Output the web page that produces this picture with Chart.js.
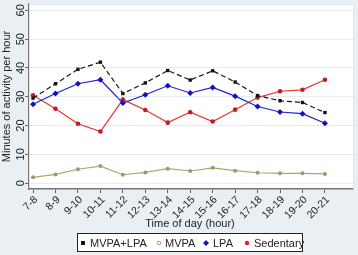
<!DOCTYPE html>
<html><head><meta charset="utf-8">
<script src="https://cdn.jsdelivr.net/npm/chart.js@4/dist/chart.umd.min.js"></script>
<style>html,body{margin:0;padding:0;background:#e9eff3;}#wrap{width:358px;height:255px;}</style>
</head><body><div id="wrap"><canvas id="c" width="358" height="255"></canvas></div>
<script>
const categories = ["7-8","8-9","9-10","10-11","11-12","12-13","13-14","14-15","15-16","16-17","17-18","18-19","19-20","20-21"];
const mvpaLpa   = [29.5,34.5,39.5,42.0,31.1,34.8,39.1,35.8,39.0,35.1,30.4,28.6,28.0,24.5];
const mvpa      = [2.0,3.0,4.8,5.9,2.9,3.7,5.0,4.2,5.3,4.3,3.6,3.4,3.4,3.2];
const lpa       = [27.4,31.1,34.5,35.9,27.8,30.7,33.8,31.3,33.2,30.2,26.6,24.7,24.1,20.8];
const sedentary = [30.5,25.8,20.6,17.9,29.0,25.4,21.0,24.6,21.4,25.5,29.7,31.9,32.4,35.9];
const yTicks = [0,10,20,30,40,50,60];
const seriesNames = ["MVPA+LPA","MVPA","LPA","Sedentary"];

const toXY = arr => arr.map((v,i)=>({x:i,y:v}));
const FONT = '"Liberation Sans", Arial, sans-serif';

const deco = {
  id:'deco',
  beforeDraw(chart){
    const {ctx, chartArea:a} = chart;
    ctx.save();
    ctx.fillStyle='#e9eff3'; ctx.fillRect(0,0,chart.width,chart.height);
    ctx.fillStyle='#ffffff'; ctx.fillRect(a.left,a.top,a.right-a.left,a.bottom-a.top);
    ctx.restore();
  },
  afterDraw(chart){
    const {ctx, chartArea:a, scales:{x,y}} = chart;
    ctx.save();
    // top/right border
    ctx.strokeStyle='#e2e9ee'; ctx.lineWidth=1;
    ctx.beginPath(); ctx.moveTo(a.left,a.top+0.5); ctx.lineTo(a.right+0.5,a.top+0.5); ctx.lineTo(a.right+0.5,a.bottom); ctx.stroke();
    ctx.fillStyle='#222';
    // y tick labels rotated
    ctx.font='11px '+FONT;
    yTicks.forEach(v=>{
      const py=y.getPixelForValue(v);
      ctx.save(); ctx.translate(21,py); ctx.rotate(-Math.PI/2);
      ctx.textAlign='center'; ctx.textBaseline='middle'; ctx.fillText(String(v),0,0); ctx.restore();
    });
    // x tick labels rotated 45
    ctx.font='10.5px '+FONT;
    categories.forEach((c,i)=>{
      const px=x.getPixelForValue(i);
      ctx.save(); ctx.translate(px+3,a.bottom+9); ctx.rotate(-Math.PI/4);
      ctx.textAlign='right'; ctx.textBaseline='middle'; ctx.fillText(c,0,0); ctx.restore();
    });
    // axis titles
    ctx.font='11px '+FONT;
    ctx.textAlign='center'; ctx.textBaseline='middle';
    ctx.fillText('Time of day (hour)',190,224);
    ctx.save(); ctx.translate(7,(a.top+a.bottom)/2); ctx.rotate(-Math.PI/2);
    ctx.fillText('Minutes of activity per hour',0,0); ctx.restore();
    // legend
    ctx.fillStyle='#ffffff'; ctx.fillRect(77.5,233.5,225,18);
    ctx.strokeStyle='#222'; ctx.lineWidth=1; ctx.strokeRect(77.5,233.5,225,18);
    const ly=243;
    ctx.fillStyle='#111'; ctx.fillRect(81,ly-2,4,4);
    ctx.strokeStyle='#a99d6b'; ctx.beginPath(); ctx.arc(159,ly,1.8,0,Math.PI*2); ctx.stroke();
    ctx.fillStyle='#1414c8'; ctx.beginPath(); ctx.moveTo(206,ly-3); ctx.lineTo(209,ly); ctx.lineTo(206,ly+3); ctx.lineTo(203,ly); ctx.closePath(); ctx.fill();
    ctx.fillStyle='#d8202a'; ctx.beginPath(); ctx.arc(247,ly,2.2,0,Math.PI*2); ctx.fill();
    ctx.fillStyle='#222'; ctx.textAlign='left'; ctx.font='11px '+FONT;
    ctx.fillText(seriesNames[0],90,ly+0.5);
    ctx.fillText(seriesNames[1],165,ly+0.5);
    ctx.fillText(seriesNames[2],213,ly+0.5);
    ctx.fillText(seriesNames[3],254,ly+0.5);
    ctx.restore();
  }
};

new Chart(document.getElementById('c'),{
  type:'line',
  data:{datasets:[
    {label:seriesNames[0],data:toXY(mvpaLpa),borderColor:'#151515',backgroundColor:'#151515',borderWidth:1.2,borderDash:[5,3],pointStyle:'rect',pointRadius:2.4,pointBorderWidth:0,pointBackgroundColor:'#111'},
    {label:seriesNames[1],data:toXY(mvpa),borderColor:'#b0a472',backgroundColor:'#a99d6b',borderWidth:1.2,pointStyle:'circle',pointRadius:2,pointBorderWidth:0,pointBackgroundColor:'#a3976a'},
    {label:seriesNames[2],data:toXY(lpa),borderColor:'#2020d0',backgroundColor:'#1414c8',borderWidth:1.2,pointStyle:'rectRot',pointRadius:3,pointBorderWidth:0,pointBackgroundColor:'#1010c0'},
    {label:seriesNames[3],data:toXY(sedentary),borderColor:'#e8352f',backgroundColor:'#c81e2a',borderWidth:1.2,pointStyle:'circle',pointRadius:2.3,pointBorderWidth:0,pointBackgroundColor:'#c41a28'}
  ]},
  options:{
    responsive:false,animation:false,
    layout:{padding:{left:25,right:5,top:3,bottom:62}},
    plugins:{legend:{display:false},tooltip:{enabled:false}},
    elements:{line:{tension:0}},
    scales:{
      x:{type:'linear',min:-0.18,max:14.25,
         afterBuildTicks:s=>{s.ticks=categories.map((c,i)=>({value:i}));},
         ticks:{display:false},
         grid:{drawOnChartArea:false,drawTicks:true,tickLength:4,tickColor:'#666'},
         border:{display:true,color:'#777',width:1.5}},
      y:{type:'linear',min:-2.05,max:62.2,
         afterBuildTicks:s=>{s.ticks=yTicks.map(v=>({value:v}));},
         ticks:{display:false},
         grid:{color:'#e6edf1',lineWidth:1,drawTicks:true,tickLength:4,tickColor:'#666'},
         border:{display:true,color:'#777',width:1.2}}
    }
  },
  plugins:[deco]
});
</script></body></html>
